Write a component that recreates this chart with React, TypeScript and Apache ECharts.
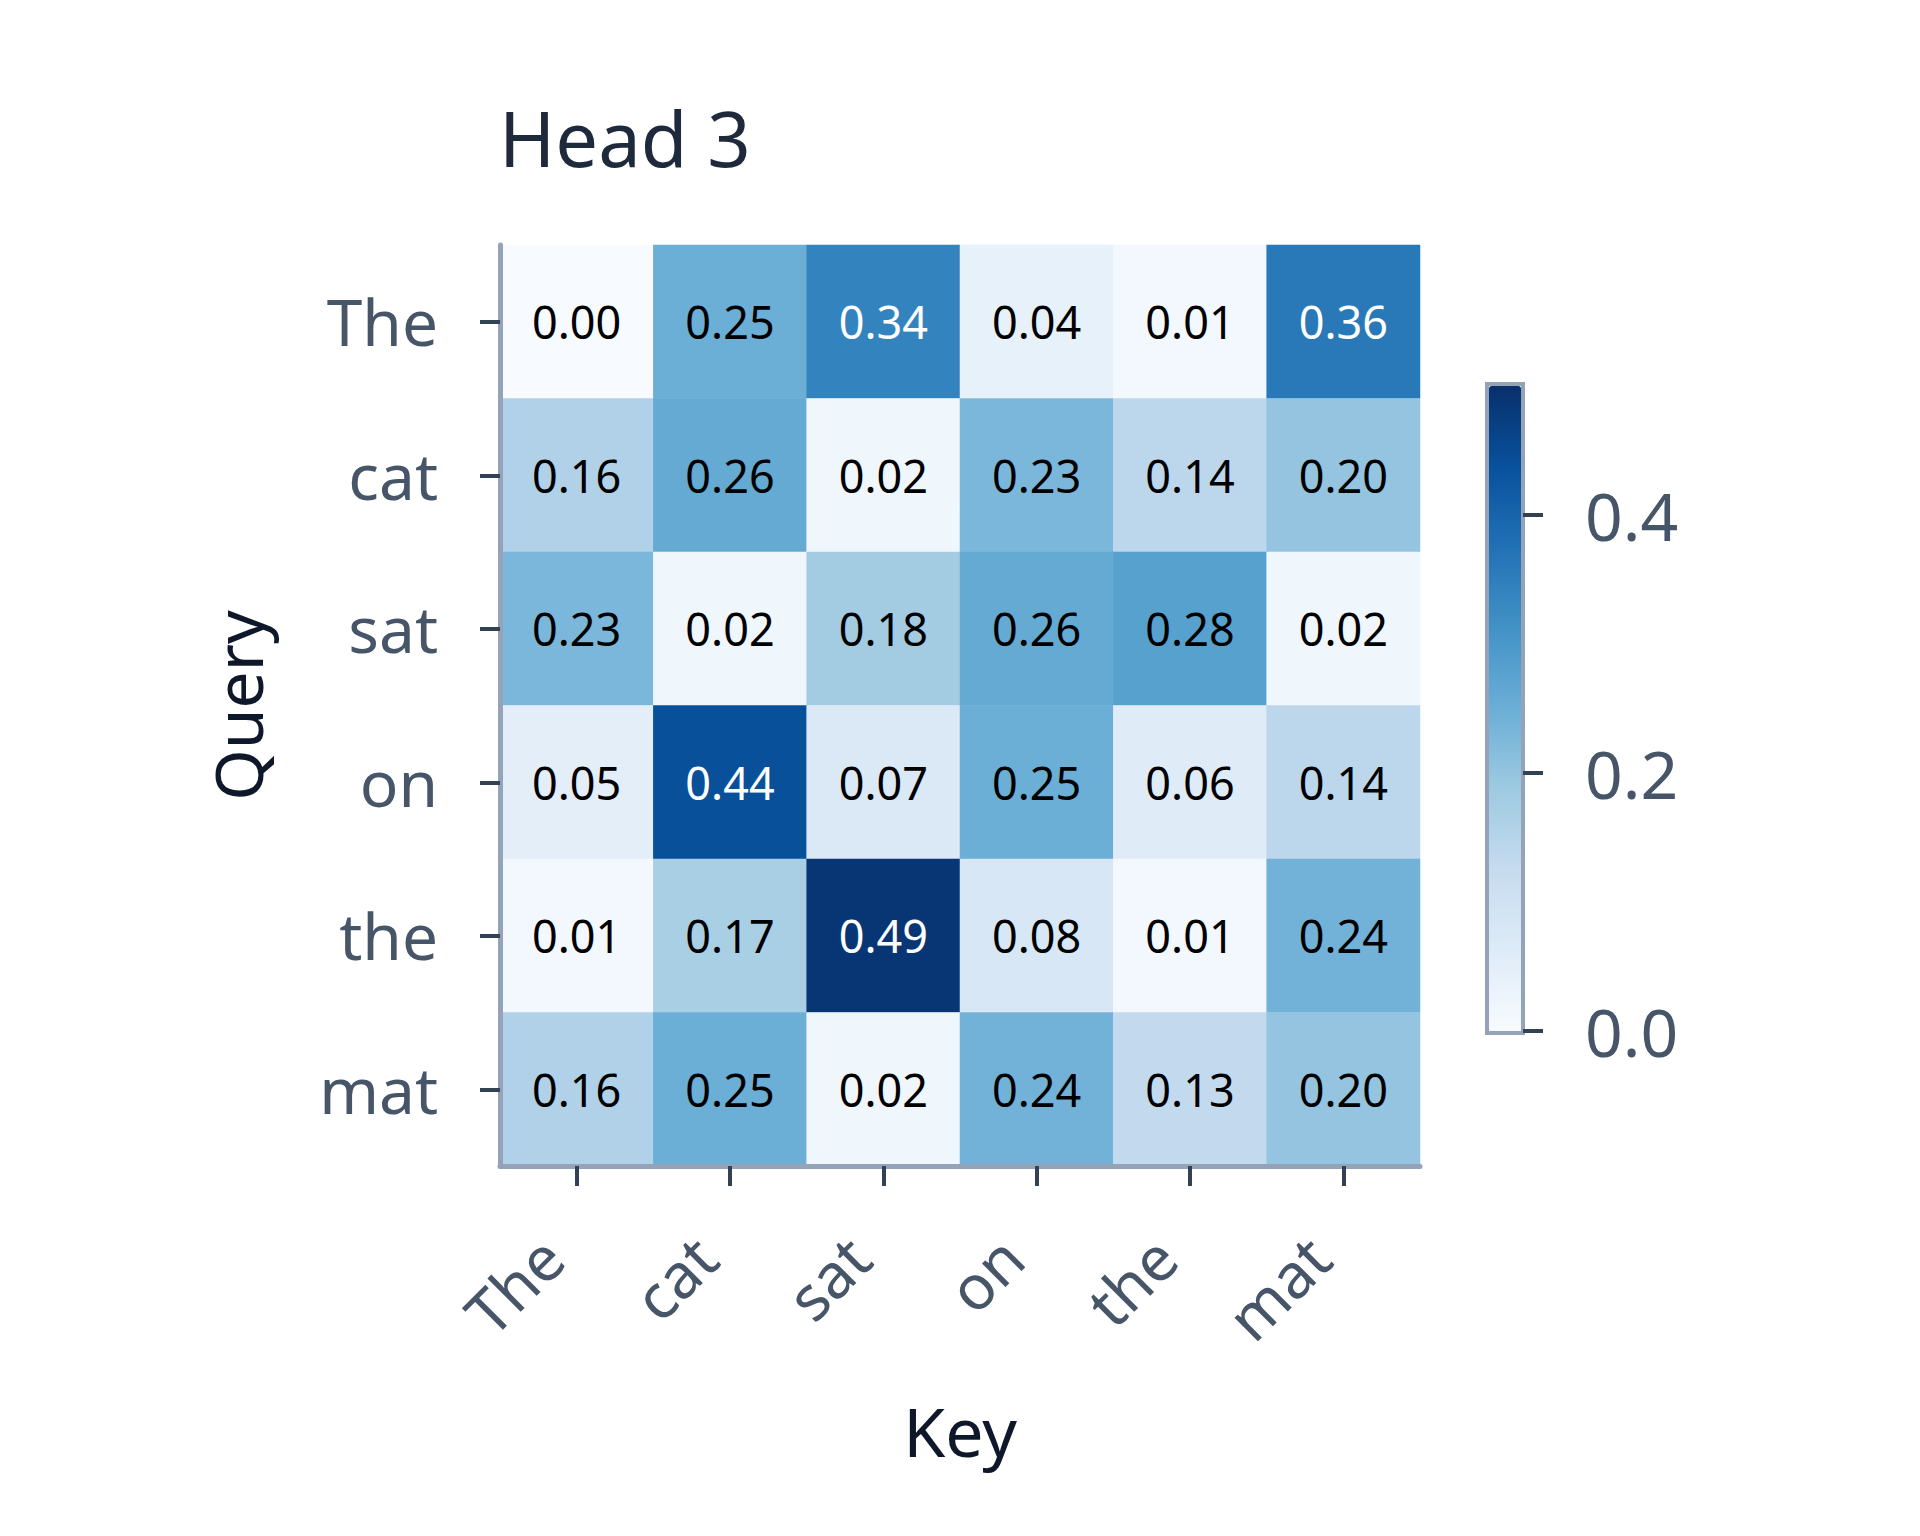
import React, { useEffect, useRef } from "react";
import * as echarts from "echarts";

const keys = ["The", "cat", "sat", "on", "the", "mat"];
const queries = ["The", "cat", "sat", "on", "the", "mat"];
const rowThe = [0.0, 0.25, 0.34, 0.04, 0.01, 0.36];
const rowCat = [0.16, 0.26, 0.02, 0.23, 0.14, 0.2];
const rowSat = [0.23, 0.02, 0.18, 0.26, 0.28, 0.02];
const rowOn = [0.05, 0.44, 0.07, 0.25, 0.06, 0.14];
const rowThe2 = [0.01, 0.17, 0.49, 0.08, 0.01, 0.24];
const rowMat = [0.16, 0.25, 0.02, 0.24, 0.13, 0.2];
const rows = [rowThe, rowCat, rowSat, rowOn, rowThe2, rowMat];
const colorMin = 0;
const colorMax = 0.5;
const colorbarTickMax = 0.4;
const colorbarTickStep = 0.2;
const title = "Head 3";
const xTitle = "Key";
const yTitle = "Query";

const blues = ["#f7fbff", "#deebf7", "#c6dbef", "#9ecae1", "#6baed6", "#4292c6", "#2171b5", "#08519c", "#08306b"];
const FONT = "'Noto Sans', sans-serif";

// page offset (body margin)
const O = 8;
const CB_LEFT = 1489 - O;
const CB_TOP = 386 - O;
const CB_W = 32;
const CB_H = 645;

export default function App() {
  const ref = useRef<HTMLDivElement>(null);
  useEffect(() => {
    if (!ref.current) return;
    const chart = echarts.init(ref.current, null, { renderer: "svg" });
    const data: any[] = [];
    rows.forEach((row, yi) =>
      row.forEach((v, xi) => {
        data.push({ value: [xi, yi, v], label: { color: v > 0.3 ? "#ffffff" : "#000000" } });
      })
    );
    const tickH = (CB_H * (colorbarTickMax - colorMin)) / (colorMax - colorMin);
    chart.setOption({
      animation: false,
      backgroundColor: "#ffffff",
      textStyle: { fontFamily: FONT },
      title: {
        text: title,
        left: 486,
        top: 86,
        textStyle: { fontSize: 76, fontWeight: "normal", color: "#1e293b", fontFamily: FONT },
      },
      grid: [
        { left: 500 - O, top: 245 - O, width: 920, height: 921 },
        // colorbar frame
        { left: CB_LEFT - 2, top: CB_TOP - 2, width: CB_W + 4, height: CB_H + 4, show: true, borderColor: "#94a3b8", borderWidth: 4, backgroundColor: "transparent" },
        // colorbar tick axis
        { left: CB_LEFT, top: CB_TOP + CB_H - tickH, width: CB_W + 2, height: tickH },
      ],
      xAxis: [
        {
          type: "category",
          data: keys,
          gridIndex: 0,
          z: 5,
          name: xTitle,
          nameLocation: "middle",
          nameGap: 230,
          nameTextStyle: { fontSize: 68, color: "#0f172a", fontFamily: FONT },
          axisLine: { show: true, lineStyle: { color: "#94a3b8", width: 5 } },
          axisTick: { show: true, alignWithLabel: true, length: 20, lineStyle: { color: "#334155", width: 4 } },
          axisLabel: { rotate: 45, margin: 56, padding: [0, 35, 0, 0], fontSize: 62, color: "#475569", fontFamily: FONT },
          splitLine: { show: false },
        },
        { type: "value", gridIndex: 1, show: false, min: 0, max: 1 },
        { type: "value", gridIndex: 2, show: false, min: 0, max: 1 },
      ],
      yAxis: [
        {
          type: "category",
          data: queries,
          inverse: true,
          gridIndex: 0,
          z: 5,
          name: yTitle,
          nameLocation: "middle",
          nameGap: 230,
          nameRotate: 90,
          nameTextStyle: { fontSize: 66, color: "#0f172a", fontFamily: FONT },
          axisLine: { show: true, lineStyle: { color: "#94a3b8", width: 5 } },
          axisTick: { show: true, alignWithLabel: true, length: 20, lineStyle: { color: "#334155", width: 4 } },
          axisLabel: { margin: 62, fontSize: 64, color: "#475569", fontFamily: FONT },
          splitLine: { show: false },
        },
        { type: "value", gridIndex: 1, show: false, min: 0, max: 1 },
        {
          type: "value",
          gridIndex: 2,
          position: "right",
          min: colorMin,
          max: colorbarTickMax,
          interval: colorbarTickStep,
          z: 6,
          axisLine: { show: false, onZero: false },
          axisTick: { show: true, inside: false, length: 20, lineStyle: { color: "#334155", width: 4 } },
          axisLabel: {
            show: true,
            margin: 62,
            fontSize: 66,
            color: "#475569",
            fontFamily: FONT,
            formatter: (v: number) => v.toFixed(1),
          },
          splitLine: { show: false },
        },
      ],
      visualMap: {
        type: "continuous",
        min: colorMin,
        max: colorMax,
        seriesIndex: 0,
        dimension: 2,
        calculable: false,
        hoverLink: false,
        show: true,
        orient: "vertical",
        left: CB_LEFT,
        top: CB_TOP,
        padding: 0,
        itemWidth: CB_W,
        itemHeight: CB_H,
        text: null,
        inRange: { color: blues },
      },
      series: [
        {
          type: "heatmap",
          xAxisIndex: 0,
          yAxisIndex: 0,
          data,
          itemStyle: { borderWidth: 0 },
          label: {
            show: true,
            fontSize: 45,
            fontFamily: FONT,
            formatter: (p: any) => p.value[2].toFixed(2),
          },
          emphasis: { disabled: true },
        },
      ],
    });
    return () => chart.dispose();
  }, []);
  return <div ref={ref} style={{ width: 1904, height: 1520 }} />;
}
